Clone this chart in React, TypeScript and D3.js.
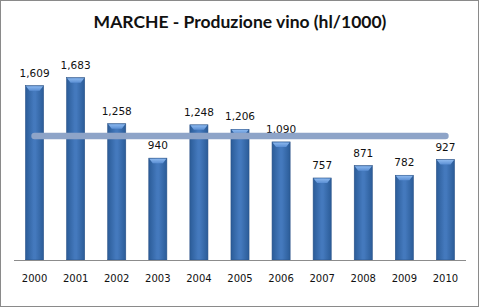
import React from "react";
import * as d3 from "d3";

const years = ["2000","2001","2002","2003","2004","2005","2006","2007","2008","2009","2010"];
const values = [1609,1683,1258,940,1248,1206,1090,757,871,782,927];
const refLine = [1145];
const title = "MARCHE - Produzione vino (hl/1000)";

const W = 481, H = 308;
const left = 14, right = 466, baseY = 260, topY = 65;

export default function App() {
  const x = d3.scaleBand<string>().domain(years).range([left, right]).paddingInner(0.56).paddingOuter(0.28);
  const y = d3.scaleLinear().domain([0, 1800]).range([baseY, topY]);
  const fmt = d3.format(",");
  const bw = x.bandwidth();
  const lineX1 = x(years[0])! + bw / 2;
  const lineX2 = x(years[years.length - 1])! + bw / 2;
  return (
    <svg width={W} height={H} style={{ position: "absolute", left: 0, top: 0 }} fontFamily="DejaVu Sans">
      <defs>
        <linearGradient id="barG" x1="0" x2="1" y1="0" y2="0">
          <stop offset="0" stopColor="#2b5c98" />
          <stop offset="0.45" stopColor="#4479bd" />
          <stop offset="0.55" stopColor="#4479bd" />
          <stop offset="1" stopColor="#2b5c98" />
        </linearGradient>
        <linearGradient id="capG" x1="0" x2="0" y1="0" y2="1">
          <stop offset="0" stopColor="#8cb8ee" />
          <stop offset="1" stopColor="#5b8fd4" />
        </linearGradient>
      </defs>
      <rect x={0.5} y={0.5} width={W - 3} height={H - 2} fill="#ffffff" stroke="#8a8a8a" strokeWidth={1} />
      <text x={240} y={28} textAnchor="middle" fontFamily="Lato" fontWeight="bold" fontSize={17.5} fill="#111">{title}</text>
      {values.map((v, i) => {
        const bx = x(years[i])!;
        const by = y(v);
        return (
          <g key={years[i]}>
            <rect x={bx} y={by} width={bw} height={baseY - by} fill="url(#barG)" stroke="#2a5288" strokeWidth={0.6} />
            <path d={`M${bx + 0.5},${by + 0.5} L${bx + bw - 0.5},${by + 0.5} L${bx + bw - 4},${by + 5} L${bx + 4},${by + 5} Z`} fill="url(#capG)" />
            <text x={bx + bw / 2} y={by - 9} textAnchor="middle" fontSize={10.5} fill="#111">{fmt(v)}</text>
          </g>
        );
      })}
      <line x1={left} x2={right} y1={baseY + 0.5} y2={baseY + 0.5} stroke="#8c8c8c" strokeWidth={1} />
      {years.map((yr) => (
        <text key={yr} x={x(yr)! + bw / 2} y={282} textAnchor="middle" fontSize={10} fill="#111">{yr}</text>
      ))}
      {refLine.map((r, i) => (
        <line key={i} x1={lineX1} x2={lineX2} y1={y(r)} y2={y(r)} stroke="#8ea4c8" strokeWidth={6.5} strokeLinecap="round" />
      ))}
    </svg>
  );
}
